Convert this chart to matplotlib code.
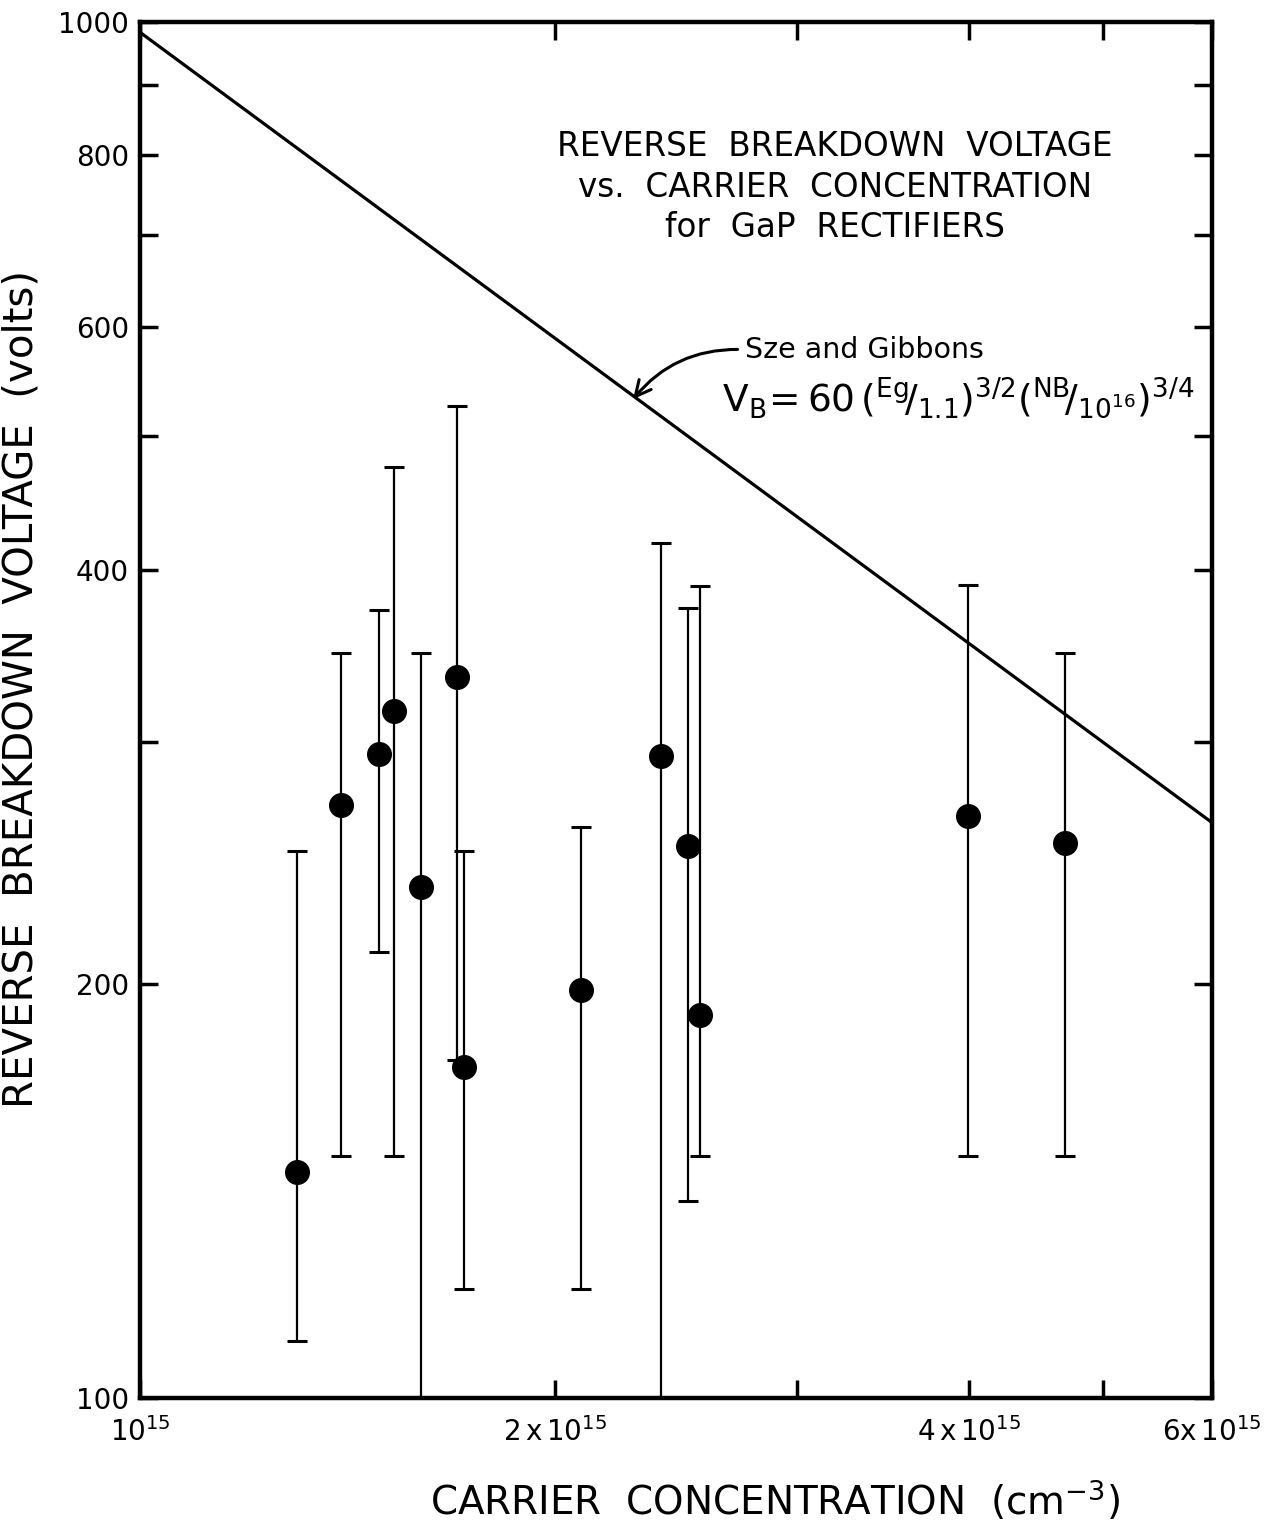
import numpy as np
import matplotlib
matplotlib.use("Agg")
import matplotlib.pyplot as plt
from matplotlib.ticker import FixedLocator, NullLocator

plt.rcParams['font.family'] = ['DejaVu Sans']
plt.rcParams['mathtext.fontset'] = 'dejavusans'

# measured GaP rectifiers: carrier concentration (cm^-3), breakdown voltage (V)
conc = [1.30e15, 1.40e15, 1.49e15, 1.53e15, 1.60e15, 1.70e15, 1.72e15,
        2.09e15, 2.39e15, 2.50e15, 2.55e15, 3.99e15, 4.69e15]
volts = [146, 270, 294, 316, 235, 334, 174, 198, 293, 252, 190, 265, 253]
v_high = [250, 348, 374, 475, 348, 526, 250, 260, 418, 375, 389, 390, 348]
v_low = [110, 150, 211, 150, 100, 176, 120, 120, 100, 139, 150, 150, 150]

# Sze and Gibbons line end points
theory_x = [1e15, 6e15]
theory_y = [983, 262]

xticks = [1e15, 2e15, 3e15, 4e15, 5e15, 6e15]
xticklabels = [r'$\mathregular{10^{15}}$', r'$\mathregular{2\,x\,10^{15}}$', '',
               r'$\mathregular{4\,x\,10^{15}}$', '', r'$\mathregular{6x\,10^{15}}$']
yticks = [100, 200, 300, 400, 500, 600, 700, 800, 900, 1000]
yticklabels = ['100', '200', '', '400', '', '600', '', '800', '', '1000']

fig = plt.figure(figsize=(12.73, 15.33), dpi=100)
ax = fig.add_axes([0.110, 0.088, 0.842, 0.8976])
ax.set_xscale('log')
ax.set_yscale('log')
ax.set_xlim(1e15, 6e15)
ax.set_ylim(100, 1000)

ax.plot(theory_x, theory_y, color='black', lw=2.3)

yerr = [np.array(volts) - np.array(v_low), np.array(v_high) - np.array(volts)]
ax.errorbar(conc, volts, yerr=yerr, fmt='o', color='black', ms=17,
            elinewidth=1.6, capsize=7, capthick=2.2)

ax.xaxis.set_major_locator(FixedLocator(xticks))
ax.xaxis.set_minor_locator(NullLocator())
ax.set_xticklabels(xticklabels)
ax.yaxis.set_major_locator(FixedLocator(yticks))
ax.yaxis.set_minor_locator(NullLocator())
ax.set_yticklabels(yticklabels)
ax.tick_params(direction='in', length=13, width=2.5, top=True, right=True,
               labelsize=20, pad=8)
ax.tick_params(axis='x', pad=14)
for s in ax.spines.values():
    s.set_linewidth(3.2)

ax.set_xlabel(r'CARRIER  CONCENTRATION  (cm$^{-3}$)', fontsize=28, labelpad=22)
ax.xaxis.label.set_x(0.592)
ax.set_ylabel('REVERSE  BREAKDOWN  VOLTAGE  (volts)', fontsize=29, labelpad=12)
ax.yaxis.label.set_y(0.515)

ax.text(0.648, 0.88, 'REVERSE  BREAKDOWN  VOLTAGE\nvs.  CARRIER  CONCENTRATION\nfor  GaP  RECTIFIERS',
        transform=ax.transAxes, ha='center', va='center', fontsize=23.5, linespacing=1.3)

ax.annotate('Sze and Gibbons', xy=(2.28e15, 532), xytext=(0.564, 0.762),
            textcoords='axes fraction', fontsize=20.5, va='center', ha='left',
            arrowprops=dict(arrowstyle='->', lw=2.2, color='black', mutation_scale=28,
                            shrinkA=3, shrinkB=0, relpos=(0, 0.5),
                            connectionstyle='arc3,rad=0.25'))
ax.text(0.543, 0.727,
        r'$\mathregular{V_B\!=60\,(^{Eg}\!/_{1.1})^{3/2}(^{NB}\!/_{10^{16}})^{3/4}}$',
        transform=ax.transAxes, fontsize=27, va='center', ha='left')

fig.savefig('out.png', dpi=100)
